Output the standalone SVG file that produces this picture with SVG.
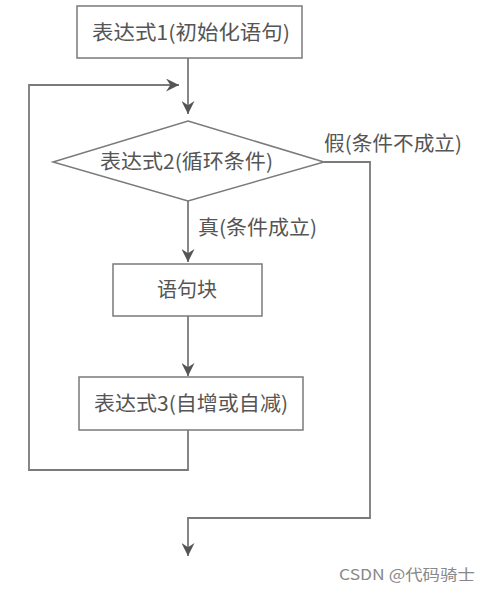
<svg xmlns="http://www.w3.org/2000/svg" width="491" height="591" viewBox="0 0 491 591">
<defs>
<marker id="ah" viewBox="0 0 12 12" refX="12" refY="6" markerWidth="13" markerHeight="13" markerUnits="userSpaceOnUse" orient="auto">
<path d="M0,0 L12,6 L0,12 L4,6 Z" fill="#555"/>
</marker>
</defs>
<style>
.n{fill:#fff;stroke:#7a7a7a;stroke-width:1.5}
.c{fill:none;stroke:#7a7a7a;stroke-width:1.8}
text{font-family:"Noto Sans CJK SC","Noto Sans",sans-serif;font-size:20px;fill:#555}
.w{font-size:15px;fill:#888}
</style>
<rect width="491" height="591" fill="#fff"/>
<g id="connectors">
<path class="c" d="M188,58 V114" marker-end="url(#ah)"/>
<path class="c" d="M188,430 V470 H29 V85 H179" marker-end="url(#ah)"/>
<path class="c" d="M188,201 V262" marker-end="url(#ah)"/>
<path class="c" d="M188,316 V376" marker-end="url(#ah)"/>
<path class="c" d="M324,162 H370 V518 H188 V556" marker-end="url(#ah)"/>
</g>
<g id="n1"><rect class="n" x="77" y="6" width="225" height="52"/><text x="92" y="40" textLength="198" lengthAdjust="spacingAndGlyphs">表达式1(初始化语句)</text></g>
<g id="n2"><polygon class="n" points="188,121 324,162 188,201 53,162"/><text x="100" y="169" textLength="173" lengthAdjust="spacingAndGlyphs">表达式2(循环条件)</text></g>
<g id="n3"><rect class="n" x="113" y="264" width="149" height="52"/><text x="157" y="297" textLength="60" lengthAdjust="spacingAndGlyphs">语句块</text></g>
<g id="n4"><rect class="n" x="79" y="377" width="224" height="53"/><text x="94" y="411" textLength="194" lengthAdjust="spacingAndGlyphs">表达式3(自增或自减)</text></g>
<g id="labels">
<text x="324" y="151" textLength="138" lengthAdjust="spacingAndGlyphs">假(条件不成立)</text>
<text x="198" y="235" textLength="119" lengthAdjust="spacingAndGlyphs">真(条件成立)</text>
<text class="w" x="339" y="580" textLength="136" lengthAdjust="spacingAndGlyphs">CSDN @代码骑士</text>
</g>
</svg>
